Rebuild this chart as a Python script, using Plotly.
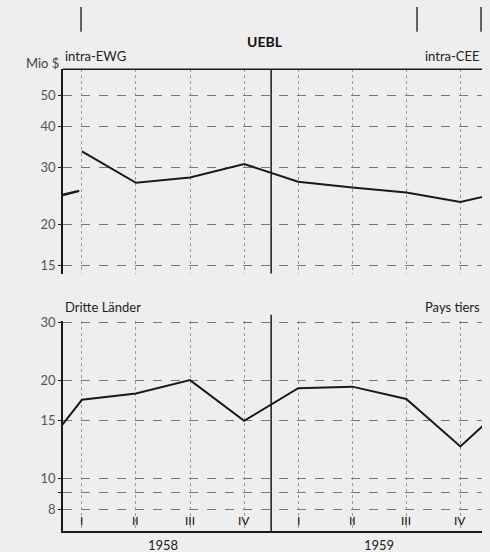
import math
import plotly.graph_objects as go

# quarters 1958 I .. 1959 IV (index 0..7)
quarter_idx = [0, 1, 2, 3, 4, 5, 6, 7]
quarter_labels = ["I", "II", "III", "IV", "I", "II", "III", "IV"]
years = ["1958", "1959"]
year_pos = [1.5, 5.5]

# intra-EWG / intra-CEE, Mio $
ewg_x = [0, 1, 2, 3, 4, 5, 6, 7, 8]
ewg_vals = [33.6, 26.9, 27.9, 30.7, 27.1, 26.0, 25.1, 23.5, 25.6]
ewg_prev_x = [-1, -0.05]
ewg_prev_vals = [23.2, 25.4]

# Dritte Laender / Pays tiers, Mio $
dl_x = [-1, 0, 1, 2, 3, 4, 5, 6, 7, 8]
dl_vals = [10.7, 17.4, 18.2, 20.0, 15.0, 18.9, 19.1, 17.5, 12.5, 17.8]

top_ticks = [15, 20, 30, 40, 50]
bot_ticks = [8, 9, 10, 15, 20, 30]
bot_ticktext = ["8", "", "10", "15", "20", "30"]
bot_solid = [8, 9, 10]

BG = "#eeeeee"
INK = "#1a1a1a"
FONT = "Lato"
xr = [-0.35, 7.4]
xdom = [63 / 490, 482 / 490]

fig = go.Figure()
fig.add_trace(go.Scatter(x=ewg_prev_x, y=ewg_prev_vals, mode="lines",
                         line=dict(color=INK, width=2.5), xaxis="x", yaxis="y"))
fig.add_trace(go.Scatter(x=ewg_x, y=ewg_vals, mode="lines",
                         line=dict(color=INK, width=2), xaxis="x", yaxis="y"))
fig.add_trace(go.Scatter(x=dl_x, y=dl_vals, mode="lines",
                         line=dict(color=INK, width=2), xaxis="x2", yaxis="y2"))

shapes = []
# solid horizontal lines in lower panel
for v in bot_solid:
    shapes.append(dict(type="line", xref="x2 domain", yref="y2", x0=0, x1=1,
                       y0=math.log10(v), y1=math.log10(v),
                       line=dict(color=INK, width=2 if v == 8 else 1)))
# top border of upper panel
shapes.append(dict(type="line", xref="x domain", yref="y domain", x0=0, x1=1, y0=1, y1=1,
                   line=dict(color=INK, width=1.5)))
# year separators
for ax, top in [("", 1), ("2", 1.03)]:
    shapes.append(dict(type="line", xref="x" + ax, yref="y" + ax + " domain", x0=3.5, x1=3.5,
                       y0=0, y1=top, line=dict(color=INK, width=1.5)))
# fragments of neighbouring charts at the top edge
for px in [81, 417, 481]:
    shapes.append(dict(type="line", xref="paper", yref="paper", x0=px / 490, x1=px / 490,
                       y0=1, y1=1 - 25 / 552, line=dict(color="#333", width=1.5)))

annotations = [
    dict(text="<b>UEBL</b>", x=265 / 490, y=1 - 35 / 552, xref="paper", yref="paper",
         yanchor="middle", showarrow=False, font=dict(family=FONT, size=14, color="#111")),
    dict(text="intra-EWG", x=xdom[0], y=1 - 60 / 552, xref="paper", yref="paper",
         xanchor="left", yanchor="bottom", showarrow=False,
         font=dict(family=FONT, size=13, color="#222")),
    dict(text="intra-CEE", x=xdom[1], y=1 - 60 / 552, xref="paper", yref="paper",
         xanchor="right", yanchor="bottom", showarrow=False,
         font=dict(family=FONT, size=13, color="#222")),
    dict(text="Mio $", x=xdom[0] - 0.004, y=1 - 57 / 552, xref="paper", yref="paper",
         xanchor="right", yanchor="middle", showarrow=False,
         font=dict(family=FONT, size=13, color="#444")),
    dict(text="Dritte Länder", x=xdom[0], y=1 - 314 / 552, xref="paper", yref="paper",
         xanchor="left", yanchor="bottom", showarrow=False,
         font=dict(family=FONT, size=13, color="#222")),
    dict(text="Pays tiers", x=xdom[1], y=1 - 314 / 552, xref="paper", yref="paper",
         xanchor="right", yanchor="bottom", showarrow=False,
         font=dict(family=FONT, size=13, color="#222")),
]
# quarter labels inside the band below the 8 line
for q, lab in zip(quarter_idx, quarter_labels):
    annotations.append(dict(text=lab, x=q, y=math.log10(7.4), xref="x2", yref="y2",
                            yanchor="middle", showarrow=False,
                            font=dict(family=FONT, size=12, color="#111")))
for yr, pos in zip(years, year_pos):
    annotations.append(dict(text=yr, x=pos, y=1 - 545 / 552, xref="x2", yref="paper",
                            yanchor="middle", showarrow=False,
                            font=dict(family=FONT, size=13, color="#222")))

grid = dict(showgrid=True, gridcolor="#777", gridwidth=1, griddash="dash")
vgrid = dict(showgrid=True, gridcolor="#9a9a9a", gridwidth=1, griddash="dot")

fig.update_layout(
    width=490, height=552, showlegend=False,
    paper_bgcolor=BG, plot_bgcolor=BG,
    margin=dict(l=0, r=0, t=0, b=0),
    font=dict(family=FONT, size=13, color="#555"),
    xaxis=dict(domain=xdom, range=xr, anchor="y", tickvals=quarter_idx, showticklabels=False,
               zeroline=False, showline=False, **vgrid),
    yaxis=dict(domain=[1 - 270 / 552, 1 - 63 / 552], type="log",
               range=[1.151, math.log10(60)], anchor="x",
               tickvals=top_ticks, ticks="outside", ticklen=3, tickcolor=INK,
               showline=True, linecolor=INK, linewidth=1.5, zeroline=False, **grid),
    xaxis2=dict(domain=xdom, range=xr, anchor="y2", tickvals=quarter_idx, showticklabels=False,
                zeroline=False, showline=True, linecolor=INK, linewidth=1.5, **vgrid),
    yaxis2=dict(domain=[1 - 531 / 552, 1 - 318 / 552], type="log",
                range=[math.log10(6.86), 1.483], anchor="x2",
                tickvals=bot_ticks, ticktext=bot_ticktext, ticks="outside", ticklen=3,
                tickcolor=INK, showline=True, linecolor=INK, linewidth=1.5,
                zeroline=False, **grid),
    shapes=shapes, annotations=annotations,
)

fig.write_html("out.html", config={"displayModeBar": False},
               post_script="document.body.style.margin='0';document.body.style.overflow='hidden';")
